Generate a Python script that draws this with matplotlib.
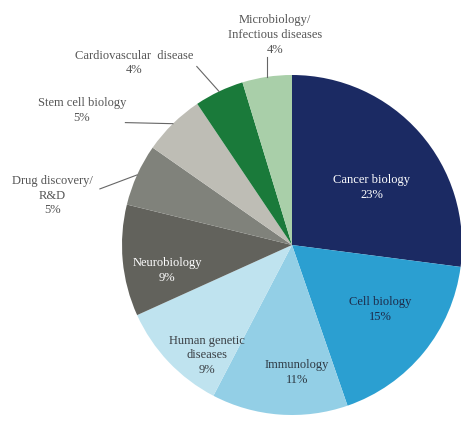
"""
Pie chart: research areas (recreation).
"""
import numpy as np
import matplotlib
matplotlib.use("Agg")
import matplotlib.pyplot as plt

plt.rcParams["font.family"] = ["Liberation Serif", "DejaVu Serif"]

AREAS = ["Cancer biology", "Cell biology", "Immunology",
         "Human genetic\ndiseases", "Neurobiology", "Drug discovery/\nR&D",
         "Stem cell biology", "Cardiovascular  disease",
         "Microbiology/\nInfectious diseases"]
PCT = [23, 15, 11, 9, 9, 5, 5, 4, 4]

COLORES = ["#1b2a63", "#2b9fd1", "#93cfe6", "#bfe3ef", "#62625c",
           "#80827b", "#bebdb5", "#1a7a3a", "#a9cfa9"]
TXT_COL = ["white", "#1d2b4a", "#2e3a44", "#3a3f44", "white",
           "#555555", "#555555", "#555555", "#555555"]

# posiciones de etiquetas (unidades del radio)
LBL_POS = [(0.47, 0.34), (0.52, -0.38), (0.03, -0.75), (-0.50, -0.65),
           (-0.735, -0.15), (-1.41, 0.29), (-1.235, 0.79), (-0.93, 1.07),
           (-0.10, 1.235)]
# inicio de las lineas guia (solo etiquetas externas); None = vertical
LEADER = {5: (-1.13, 0.33), 6: (-0.98, 0.72), 7: (-0.56, 1.05),
          8: (None, 1.106)}


def main():
    fig = plt.figure(figsize=(4.61, 4.23), dpi=100)
    ax = fig.add_axes([0, 0, 1, 1])
    ax.axis("off")

    wedges, _ = ax.pie(PCT, colors=COLORES, startangle=90,
                       counterclock=False, radius=1.0,
                       wedgeprops=dict(linewidth=0))

    for i, (name, p) in enumerate(zip(AREAS, PCT)):
        x, y = LBL_POS[i]
        ax.text(x, y, f"{name}\n{p}%", ha="center", va="center",
                fontsize=9, color=TXT_COL[i], linespacing=1.3)
        if i in LEADER:
            w = wedges[i]
            mid = np.deg2rad((w.theta1 + w.theta2) / 2)
            x0, y0 = LEADER[i]
            if x0 is None:
                x0 = np.cos(mid)
            ax.plot([x0, np.cos(mid)], [y0, np.sin(mid)],
                    color="#666666", lw=0.8)

    ax.set_aspect("equal")
    ax.set_xlim(-292 / 170, (461 - 292) / 170)
    ax.set_ylim((245 - 423) / 170, 245 / 170)

    fig.savefig("out.png", dpi=100)
    plt.close(fig)


if __name__ == "__main__":
    main()
